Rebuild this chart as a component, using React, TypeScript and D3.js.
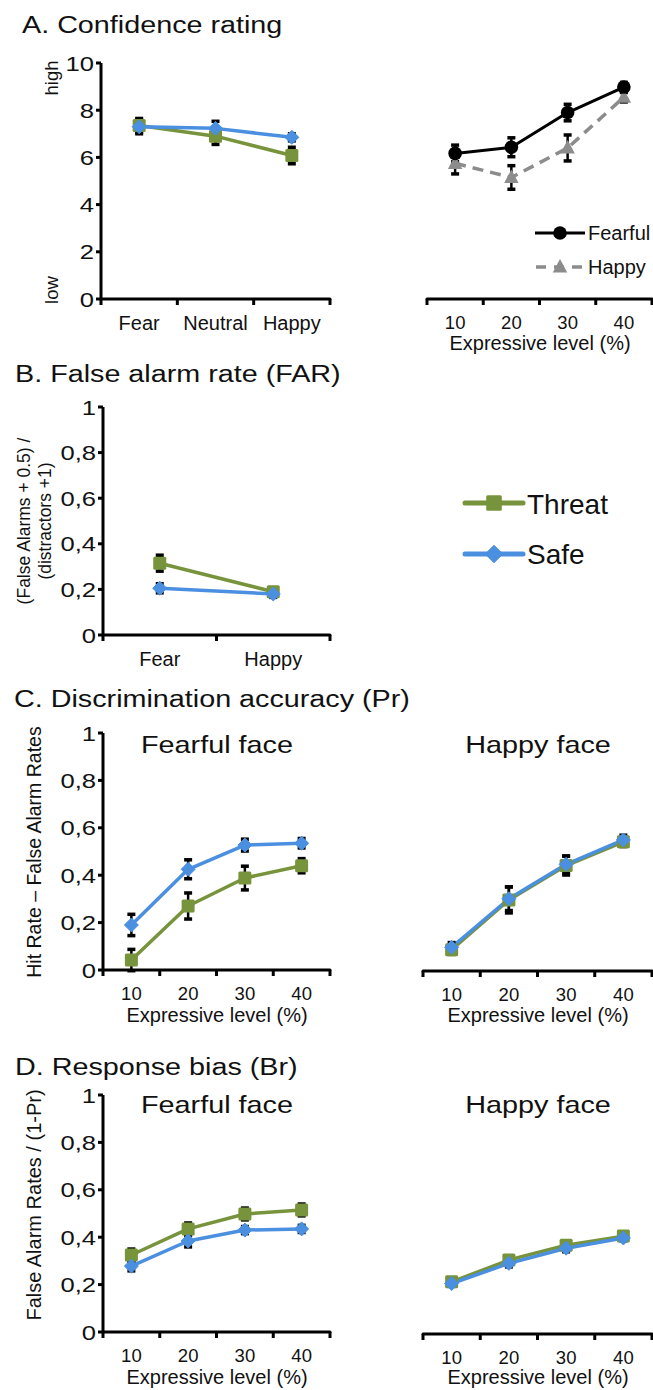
import React from "react";
import * as d3 from "d3";

// ---------- DATA ----------
const confCategories = ["Fear", "Neutral", "Happy"];
const confThreat = [7.35, 6.9, 6.08];
const confThreatErr = [0.3, 0.35, 0.35];
const confSafe = [7.3, 7.23, 6.85];
const confSafeErr = [0.3, 0.3, 0.15];

const levels = ["10", "20", "30", "40"];
const confFearful = [6.17, 6.43, 7.9, 8.98];
const confFearfulErr = [0.35, 0.4, 0.35, 0.2];
const confHappy = [5.75, 5.15, 6.4, 8.55];
const confHappyErr = [0.45, 0.5, 0.55, 0.2];

const farCategories = ["Fear", "Happy"];
const farThreat = [0.315, 0.19];
const farThreatErr = [0.035, 0.015];
const farSafe = [0.205, 0.18];
const farSafeErr = [0.02, 0.015];

const prFearThreat = [0.042, 0.27, 0.388, 0.44];
const prFearThreatErr = [0.045, 0.055, 0.05, 0.03];
const prFearSafe = [0.19, 0.425, 0.527, 0.535];
const prFearSafeErr = [0.045, 0.04, 0.025, 0.02];
const prHappyThreat = [0.09, 0.3, 0.445, 0.545];
const prHappyThreatErr = [0.02, 0.055, 0.04, 0.02];
const prHappySafe = [0.1, 0.305, 0.45, 0.553];
const prHappySafeErr = [0.02, 0.05, 0.035, 0.02];

const brFearThreat = [0.325, 0.435, 0.498, 0.515];
const brFearThreatErr = [0.025, 0.025, 0.025, 0.025];
const brFearSafe = [0.278, 0.384, 0.43, 0.435];
const brFearSafeErr = [0.02, 0.025, 0.015, 0.015];
const brHappyThreat = [0.22, 0.312, 0.375, 0.413];
const brHappyThreatErr = [0.012, 0.015, 0.015, 0.012];
const brHappySafe = [0.213, 0.298, 0.362, 0.405];
const brHappySafeErr = [0.012, 0.015, 0.015, 0.012];

const confTicks = [0, 2, 4, 6, 8, 10];
const rateTicks = [0, 0.2, 0.4, 0.6, 0.8, 1];

// ---------- STYLE ----------
const GREEN = "#77933C";
const BLUE = "#4A8FE0";
const FONT = "'Liberation Sans', Arial, sans-serif";
const INK = "#111";

type Marker = "square" | "diamond" | "circle" | "triangle";
interface Series {
  values: number[];
  errs: number[];
  color: string;
  marker: Marker;
  dash?: string;
  width?: number;
}

const T = ({ x, y, size, sx = 1, anchor = "start", rot = 0, dy, children }: any) => (
  <text
    transform={`translate(${x},${y}) scale(${sx},1)${rot ? ` rotate(${rot})` : ""}`}
    fontSize={size}
    textAnchor={anchor}
    fontFamily={FONT}
    fill={INK}
    dy={dy}
  >
    {children}
  </text>
);

function MarkerShape({ type, cx, cy, color, s = 1 }: any) {
  if (type === "square") {
    const h = 6.5 * s;
    return <rect x={cx - h} y={cy - h} width={2 * h} height={2 * h} rx={1.5} fill={color} />;
  }
  if (type === "diamond") {
    const h = 7 * s;
    return <path d={`M${cx},${cy - h}L${cx + h},${cy}L${cx},${cy + h}L${cx - h},${cy}Z`} fill={color} stroke={color} strokeWidth={1} strokeLinejoin="round" />;
  }
  if (type === "circle") {
    return <circle cx={cx} cy={cy} r={6.8 * s} fill={color} />;
  }
  const h = 8 * s;
  return <path d={`M${cx},${cy - h}L${cx + h * 0.9},${cy + h * 0.7}L${cx - h * 0.9},${cy + h * 0.7}Z`} fill={color} />;
}

function Plot({
  cats,
  x0,
  x1,
  yBottom,
  yTop,
  yMax,
  yTicks,
  fmt,
  showY,
  series,
  catSize = 18,
  catOffset = 31,
}: {
  cats: string[];
  x0: number;
  x1: number;
  yBottom: number;
  yTop: number;
  yMax: number;
  yTicks?: number[];
  fmt?: (v: number) => string;
  showY: boolean;
  series: Series[];
  catSize?: number;
  catOffset?: number;
}) {
  const x = d3.scaleBand<string>().domain(cats).range([x0, x1]);
  const y = d3.scaleLinear().domain([0, yMax]).range([yBottom, yTop]);
  const bw = x.bandwidth();
  const cx = (c: string) => (x(c) as number) + bw / 2;
  const line = d3
    .line<number>()
    .x((_, i) => cx(cats[i]))
    .y((v) => y(v));
  const boundaries = [...cats.map((c) => x(c) as number), x1];
  return (
    <g>
      {showY && (
        <g>
          <line x1={x0} x2={x0} y1={yBottom} y2={yTop} stroke="#000" strokeWidth={3} />
          {yTicks!.map((t) => (
            <g key={t}>
              <line x1={x0 - 5} x2={x0} y1={y(t)} y2={y(t)} stroke="#000" strokeWidth={3} />
              <T x={x0 - 7} y={y(t)} size={21} sx={1.22} anchor="end" dy="0.36em">
                {fmt ? fmt(t) : String(t)}
              </T>
            </g>
          ))}
        </g>
      )}
      <line x1={x0} x2={x1} y1={yBottom} y2={yBottom} stroke="#000" strokeWidth={3} strokeLinecap="round" />
      {boundaries.map((b, i) => (
        <line key={i} x1={b} x2={b} y1={yBottom} y2={yBottom + 6} stroke="#000" strokeWidth={3} />
      ))}
      {cats.map((c) => (
        <T key={c} x={cx(c)} y={yBottom + catOffset} size={catSize} anchor="middle">
          {c}
        </T>
      ))}
      {series.map((s, si) => (
        <path
          key={"l" + si}
          d={line(s.values) as string}
          fill="none"
          stroke={s.color}
          strokeWidth={s.width ?? 3.5}
          strokeDasharray={s.dash}
          strokeLinejoin="round"
        />
      ))}
      {series.map((s, si) =>
        s.values.map((v, i) => {
          const px = cx(cats[i]);
          const yt = y(v + s.errs[i]);
          const yb = y(v - s.errs[i]);
          return (
            <g key={"e" + si + "-" + i}>
              <line x1={px} x2={px} y1={yt} y2={yb} stroke="#000" strokeWidth={2.5} />
              <line x1={px - 4} x2={px + 4} y1={yt} y2={yt} stroke="#000" strokeWidth={3.5} />
              <line x1={px - 4} x2={px + 4} y1={yb} y2={yb} stroke="#000" strokeWidth={3.5} />
            </g>
          );
        })
      )}
      {series.map((s, si) =>
        s.values.map((v, i) => (
          <MarkerShape key={"m" + si + "-" + i} type={s.marker} cx={cx(cats[i])} cy={y(v)} color={s.color} />
        ))
      )}
    </g>
  );
}

const comma = (v: number) => (v === 0 || v === 1 ? String(v) : d3.format(".1f")(v).replace(".", ","));

const threatSafe = (t: number[], te: number[], s: number[], se: number[]): Series[] => [
  { values: t, errs: te, color: GREEN, marker: "square" },
  { values: s, errs: se, color: BLUE, marker: "diamond" },
];

export default function App() {
  return (
    <div style={{ position: "absolute", left: 0, top: 0 }}>
      <svg width={653} height={1390} style={{ display: "block", background: "#fff" }}>
        {/* ---------- A ---------- */}
        <T x={22} y={33} size={23} sx={1.25}>A. Confidence rating</T>
        <T x={58} y={78} size={18.5} rot={-90} anchor="middle">high</T>
        <T x={58} y={290} size={18.5} rot={-90} anchor="middle">low</T>
        <Plot
          cats={confCategories}
          x0={101}
          x1={330}
          yBottom={299}
          yTop={63}
          yMax={10}
          yTicks={confTicks}
          showY
          catSize={20}
          catOffset={31}
          series={threatSafe(confThreat, confThreatErr, confSafe, confSafeErr)}
        />
        <Plot
          cats={levels}
          x0={427}
          x1={652}
          yBottom={299}
          yTop={63}
          yMax={10}
          showY={false}
          catSize={18.5}
          catOffset={30}
          series={[
            { values: confHappy, errs: confHappyErr, color: "#8C8C8C", marker: "triangle", dash: "11,7" },
            { values: confFearful, errs: confFearfulErr, color: "#000", marker: "circle", width: 3 },
          ]}
        />
        <T x={540} y={350} size={20} anchor="middle">Expressive level (%)</T>
        {/* legend A */}
        <line x1={535} x2={585} y1={233} y2={233} stroke="#000" strokeWidth={3} />
        <MarkerShape type="circle" cx={560} cy={233} color="#000" />
        <T x={588} y={240} size={20}>Fearful</T>
        <line x1={535} x2={585} y1={267} y2={267} stroke="#8C8C8C" strokeWidth={3.5} strokeDasharray="10,8" strokeDashoffset={-1} />
        <MarkerShape type="triangle" cx={560} cy={267} color="#8C8C8C" />
        <T x={588} y={274} size={20}>Happy</T>

        {/* ---------- B ---------- */}
        <T x={15} y={382} size={23} sx={1.25}>B. False alarm rate (FAR)</T>
        <T x={30} y={521} size={17.5} rot={-90} anchor="middle">(False Alarms + 0.5) /</T>
        <T x={51} y={521} size={17.5} rot={-90} anchor="middle">(distractors +1)</T>
        <Plot
          cats={farCategories}
          x0={103}
          x1={330}
          yBottom={635}
          yTop={407}
          yMax={1}
          yTicks={rateTicks}
          fmt={comma}
          showY
          catSize={20}
          catOffset={31}
          series={threatSafe(farThreat, farThreatErr, farSafe, farSafeErr)}
        />
        {/* legend B */}
        <line x1={465} x2={523} y1={503} y2={503} stroke={GREEN} strokeWidth={5} strokeLinecap="round" />
        <MarkerShape type="square" cx={494} cy={503} color={GREEN} s={1.2} />
        <T x={527} y={514} size={28}>Threat</T>
        <line x1={465} x2={523} y1={554} y2={554} stroke={BLUE} strokeWidth={5} strokeLinecap="round" />
        <MarkerShape type="diamond" cx={494} cy={554} color={BLUE} s={1.25} />
        <T x={527} y={564} size={28}>Safe</T>

        {/* ---------- C ---------- */}
        <T x={14} y={707} size={23} sx={1.25}>C. Discrimination accuracy (Pr)</T>
        <T x={41} y={852} size={19.5} rot={-90} anchor="middle">Hit Rate – False Alarm Rates</T>
        <T x={217} y={753} size={24} sx={1.2} anchor="middle">Fearful face</T>
        <T x={538} y={753} size={24} sx={1.2} anchor="middle">Happy face</T>
        <Plot
          cats={levels}
          x0={103}
          x1={330}
          yBottom={970}
          yTop={733}
          yMax={1}
          yTicks={rateTicks}
          fmt={comma}
          showY
          catSize={18.5}
          catOffset={30}
          series={threatSafe(prFearThreat, prFearThreatErr, prFearSafe, prFearSafeErr)}
        />
        <Plot
          cats={levels}
          x0={423}
          x1={652}
          yBottom={971}
          yTop={734}
          yMax={1}
          showY={false}
          catSize={18.5}
          catOffset={30}
          series={threatSafe(prHappyThreat, prHappyThreatErr, prHappySafe, prHappySafeErr)}
        />
        <T x={217} y={1022} size={20} anchor="middle">Expressive level (%)</T>
        <T x={538} y={1022} size={20} anchor="middle">Expressive level (%)</T>

        {/* ---------- D ---------- */}
        <T x={15} y={1075} size={23} sx={1.25}>D. Response bias (Br)</T>
        <T x={41} y={1205} size={20} rot={-90} anchor="middle">False Alarm Rates / (1-Pr)</T>
        <T x={217} y={1113} size={24} sx={1.2} anchor="middle">Fearful face</T>
        <T x={538} y={1113} size={24} sx={1.2} anchor="middle">Happy face</T>
        <Plot
          cats={levels}
          x0={103}
          x1={330}
          yBottom={1332}
          yTop={1095}
          yMax={1}
          yTicks={rateTicks}
          fmt={comma}
          showY
          catSize={18.5}
          catOffset={30}
          series={threatSafe(brFearThreat, brFearThreatErr, brFearSafe, brFearSafeErr)}
        />
        <Plot
          cats={levels}
          x0={423}
          x1={652}
          yBottom={1334}
          yTop={1097}
          yMax={1}
          showY={false}
          catSize={18.5}
          catOffset={30}
          series={threatSafe(brHappyThreat, brHappyThreatErr, brHappySafe, brHappySafeErr)}
        />
        <T x={217} y={1384} size={20} anchor="middle">Expressive level (%)</T>
        <T x={538} y={1384} size={20} anchor="middle">Expressive level (%)</T>
      </svg>
    </div>
  );
}
